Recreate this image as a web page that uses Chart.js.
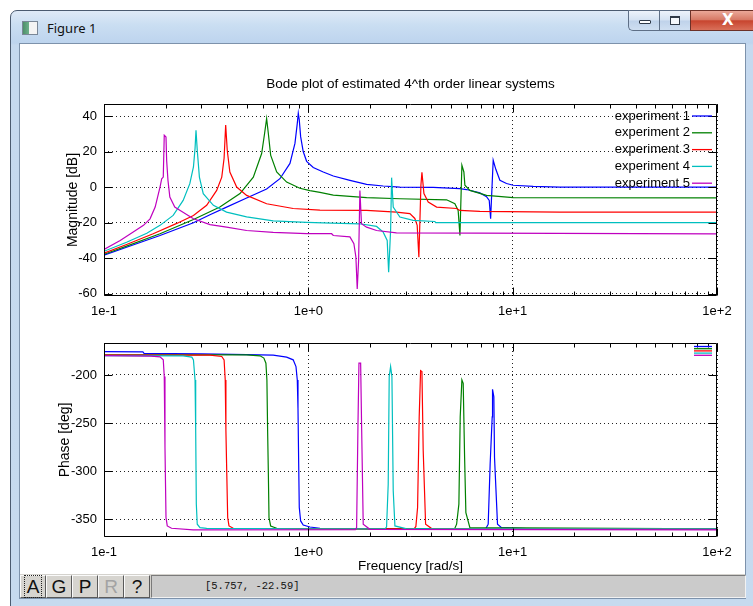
<!DOCTYPE html>
<html>
<head>
<meta charset="utf-8">
<title>Figure 1</title>
<script src="https://cdn.jsdelivr.net/npm/chart.js@4.4.1/dist/chart.umd.min.js"></script>
<style>
  html, body { margin: 0; padding: 0; background: #fff; }
  body { position: relative; width: 753px; height: 606px; overflow: hidden; font-family: "Liberation Sans", Arial, sans-serif; }
  #frame { position: absolute; left: 10px; top: 10px; width: 790px; height: 610px; box-sizing: border-box;
           border: 1px solid #4b5b70; border-radius: 7px 7px 0 0;
           background: linear-gradient(180deg, #dfeaf7 0px, #cadef2 14px, #bdd4ee 32px, #c5d9ef 34px, #c6daef 100%); }
  #icon { position: absolute; left: 22px; top: 21px; width: 14px; height: 12px; border: 1px solid #7a8797;
          background: linear-gradient(90deg, #4e8f6a 0, #6fb38c 45%, #f4f4f4 45%); }
  #wtitle { position: absolute; left: 47px; top: 19px; font: 13px "Noto Sans", "DejaVu Sans", sans-serif; color: #111; }
  .cap { position: absolute; top: 10px; height: 21px; box-sizing: border-box; border: 1px solid #5e6f86; }
  #bmin { left: 628px; width: 32px; border-radius: 0 0 0 5px; border-right: none;
          background: linear-gradient(180deg, #edf3fb, #d4e2f2 48%, #bfd2ea 52%, #cfdff1); }
  #bmax { left: 659px; width: 31px; border-right: none;
          background: linear-gradient(180deg, #edf3fb, #d4e2f2 48%, #bfd2ea 52%, #cfdff1); }
  #bclose { left: 690px; width: 80px; background: linear-gradient(180deg, #eba898, #d77a66 45%, #c8452f 52%, #d9705a); border-color: #6c3128; }
  #bmin i { position: absolute; left: 10px; top: 9px; width: 10px; height: 2px; border: 1px solid #2f3a48; background: #fff; border-radius: 1px; }
  #bmax i { position: absolute; left: 10px; top: 5px; width: 8px; height: 6px; border: 1px solid #2f3a48; border-top-width: 2px; background: #f4f8fc; }
  #bclose span { position: absolute; left: 31px; top: 0px; font: bold 15px "DejaVu Sans", sans-serif; color: #fff; }
  #client { position: absolute; left: 19px; top: 43px; width: 727px; height: 556px; box-sizing: border-box;
            border: 1px solid #7d92ab; background: #fff; }
  #toolbar { position: absolute; left: 20px; top: 574px; width: 725px; height: 24px; background: #d4d2cd; }
  .tb { position: absolute; top: 575px; width: 26px; height: 23px; box-sizing: border-box;
        border: 1px solid; border-color: #fafafa #5a5a5a #5a5a5a #fafafa; background: #d6d4cf;
        font: 19px "Liberation Sans", Arial, sans-serif; color: #111; text-align: center; line-height: 21px; }
  #tbA span { outline: 1px dotted #222; outline-offset: 0px; padding: 0 2px; }
  #field { position: absolute; left: 151px; top: 575px; width: 595px; height: 23px; box-sizing: border-box;
           border: 1px solid; border-color: #7a7a7a #f2f2f2 #f2f2f2 #7a7a7a; background: #cbcbcb;
           font: 10.5px "Liberation Mono", monospace; color: #111; line-height: 21px; padding-left: 53px; }
  canvas { position: absolute; left: 0; }
</style>
</head>
<body>
<div id="frame"></div>
<div id="icon"></div>
<div id="wtitle">Figure 1</div>
<div class="cap" id="bmin"><i></i></div>
<div class="cap" id="bmax"><i></i></div>
<div class="cap" id="bclose"><span>X</span></div>
<div id="client"></div>
<div id="toolbar"></div>
<div class="tb" id="tbA" style="left:20px"><span>A</span></div>
<div class="tb" style="left:46px">G</div>
<div class="tb" style="left:72px">P</div>
<div class="tb" style="left:98px;color:#a3a3a3">R</div>
<div class="tb" style="left:124px">?</div>
<div id="field">[5.757, -22.59]</div>

<canvas id="magChart" width="753" height="330" style="top:0"></canvas>
<canvas id="phaseChart" width="753" height="244" style="top:330px"></canvas>

<script>
// --- data (frequency in rad/s) ---
const expNames = ['experiment 1', 'experiment 2', 'experiment 3', 'experiment 4', 'experiment 5'];

// magnitude [dB]
const magFreq1 = [0.1, 0.129, 0.188, 0.274, 0.33, 0.398, 0.499, 0.625, 0.726, 0.813, 0.86, 0.883, 0.893, 0.903, 0.917, 0.944, 0.981, 1.057, 1.183, 1.325, 1.598, 1.928, 2.325, 2.806, 4.08, 5.52, 5.95, 6.91, 7.45, 7.68, 7.8, 8.03, 8.27, 8.66, 9.33, 10.06, 12.6, 17, 100];
const mag1 = [-38.4, -33.9, -27.3, -20.1, -15.6, -11.3, -6.2, -1.1, 4.7, 13.3, 24.6, 35.9, 41.6, 37.8, 28.4, 20.0, 14.5, 11.0, 8.5, 6.2, 3.8, 1.5, 0.6, 0.0, -0.2, -0.9, -1.4, -3.3, -5.4, -7.5, -17.8, 15.1, 10.0, 3.8, 2.0, 1.0, 0.4, 0.0, 0.0];

const magFreq2 = [0.1, 0.129, 0.188, 0.274, 0.369, 0.463, 0.538, 0.591, 0.611, 0.625, 0.637, 0.654, 0.7, 0.783, 0.909, 1.018, 1.14, 1.325, 1.928, 2.806, 4.75, 5.215, 5.41, 5.52, 5.643, 5.771, 5.837, 6.175, 7.45, 10.06, 100];
const mag2 = [-37.9, -33.3, -26.3, -18.3, -11.3, -3.7, 5.6, 18.9, 30.3, 38.6, 30.3, 18.0, 8.5, 2.8, -0.7, -2.0, -3.0, -4.5, -6.0, -6.6, -7.2, -9.4, -13.2, -27.3, 12.3, 8.5, 1.0, -1.9, -4.7, -6.0, -6.1];

const magFreq3 = [0.1, 0.129, 0.174, 0.227, 0.274, 0.318, 0.356, 0.377, 0.387, 0.394, 0.401, 0.413, 0.446, 0.499, 0.625, 0.843, 1.14, 1.928, 2.70, 3.14, 3.32, 3.41, 3.475, 3.556, 3.597, 3.679, 3.862, 4.244, 5.317, 5.52, 6.91, 17, 100];
const mag3 = [-37.3, -32.4, -26.3, -20.5, -16.0, -10.3, -1.9, 5.6, 16.2, 35.0, 20.7, 8.5, 0.0, -4.7, -9.4, -12.1, -13.0, -13.2, -14.1, -15.0, -17.7, -21.6, -39.5, 1.0, 8.3, -3.7, -8.5, -11.3, -12.1, -13.2, -13.7, -14.1, -14.1];

const magFreq4 = [0.1, 0.129, 0.162, 0.188, 0.218, 0.244, 0.263, 0.274, 0.279, 0.282, 0.286, 0.293, 0.306, 0.343, 0.398, 0.499, 0.673, 0.981, 1.30, 1.788, 2.158, 2.325, 2.432, 2.472, 2.527, 2.556, 2.603, 2.806, 3.26, 4.16, 4.2, 100];
const mag4 = [-36.2, -31.1, -26.0, -21.6, -16.0, -7.5, 1.9, 11.3, 21.8, 32.0, 20.7, 5.6, -3.7, -10.3, -14.1, -16.8, -19.1, -19.9, -20.3, -20.7, -22.2, -25.4, -30.1, -48.0, -24.5, 5.3, -11.3, -16.9, -18.8, -19.4, -20.1, -20.1];

const magFreq5 = [0.1, 0.12, 0.139, 0.156, 0.168, 0.178, 0.188, 0.1916, 0.195, 0.1972, 0.2011, 0.2026, 0.2056, 0.21, 0.222, 0.236, 0.274, 0.33, 0.398, 0.499, 0.673, 0.981, 1.30, 1.325, 1.598, 1.671, 1.709, 1.735, 1.762, 1.788, 1.82, 1.928, 2.158, 2.70, 100];
const mag5 = [-35.2, -30.1, -25.4, -21.6, -17.9, -11.3, 0.0, 4.7, 5.6, 29.2, 28.2, 15.0, 3.8, -5.6, -11.3, -13.2, -17.9, -21.2, -22.6, -24.5, -25.6, -26.3, -26.3, -27.3, -28.1, -31.9, -39.4, -57.4, -41.4, -1.9, -20.7, -22.6, -24.5, -25.8, -26.4];

// phase [deg]
const phFreq1 = [0.1, 0.155, 0.157, 0.3, 0.5, 0.673, 0.783, 0.843, 0.87, 0.883, 0.89, 0.897, 0.903, 0.917, 0.944, 1.018, 1.14, 2.0, 7.4, 7.59, 7.76, 7.94, 7.97, 8.09, 8.15, 8.43, 8.82, 12.6, 100];
const ph1 = [-175.8, -176.0, -177.5, -178.2, -178.8, -179.5, -181.5, -184.3, -191.3, -205.2, -234.8, -292.4, -337.8, -351.8, -356.0, -358.1, -359.4, -360.0, -359.5, -355.2, -292.4, -243.6, -215.0, -222.7, -285.5, -355.2, -358.8, -360.0, -360.0];

const phFreq2 = [0.1, 0.499, 0.58, 0.606, 0.62, 0.627, 0.632, 0.637, 0.642, 0.654, 0.7, 1.5, 5.2, 5.317, 5.455, 5.537, 5.643, 5.727, 5.818, 5.902, 6.175, 100];
const ph2 = [-179.0, -179.1, -180.1, -182.5, -187.8, -205.2, -257.6, -299.4, -348.3, -357.0, -359.4, -360.0, -359.8, -355.2, -334.3, -243.6, -205.2, -208.7, -285.5, -343.1, -358.8, -360.0];

const phFreq3 = [0.1, 0.33, 0.377, 0.387, 0.392, 0.395, 0.398, 0.403, 0.409, 0.429, 1.0, 3.3, 3.36, 3.425, 3.488, 3.543, 3.597, 3.649, 3.749, 4.0, 100];
const ph3 = [-179.5, -179.5, -180.8, -184.3, -205.2, -257.6, -292.4, -348.3, -357.0, -359.4, -360.0, -359.8, -357.5, -337.8, -243.6, -195.5, -196.5, -278.5, -355.2, -359.5, -360.0];

const phFreq4 = [0.1, 0.244, 0.269, 0.274, 0.279, 0.281, 0.283, 0.286, 0.295, 0.318, 1.0, 2.38, 2.415, 2.46, 2.488, 2.527, 2.565, 2.603, 2.653, 3.0, 100];
const ph4 = [-180.0, -180.1, -181.5, -184.3, -205.2, -257.6, -334.3, -355.2, -358.8, -359.5, -360.0, -359.8, -358.0, -313.4, -201.7, -191.3, -201.7, -320.4, -357.0, -359.8, -360.0];

const phFreq5 = [0.1, 0.17, 0.188, 0.195, 0.1972, 0.1988, 0.2011, 0.204, 0.214, 0.273, 1.7, 1.723, 1.749, 1.769, 1.803, 1.823, 1.856, 2.0, 100];
const ph5 = [-180.0, -180.5, -181.2, -184.3, -201.7, -275.0, -348.3, -357.0, -359.4, -361.0, -360.8, -358.8, -254.1, -187.8, -187.8, -254.1, -355.2, -360.5, -361.0];

// axes
const magTicks = [40, 20, 0, -20, -40, -60];
const phaseTicks = [-200, -250, -300, -350];
const freqTicks = [0.1, 1, 10, 100];
const freqTickLabels = ['1e-1', '1e+0', '1e+1', '1e+2'];
const minorSteps = [2, 3, 4, 5, 6, 7, 8, 9];

// octave default line colours
const expColors = ['#0000ff', '#008000', '#ff0000', '#00bfbf', '#bf00bf'];

const FONT = '"Liberation Sans", Arial, sans-serif';
Chart.defaults.font.family = FONT;
Chart.defaults.color = '#000';

function pairs(xs, ys) {
  return xs.map((f, i) => ({x: f, y: ys[i]}));
}

function makeSets(freqs, vals) {
  return vals.map((v, i) => ({
    label: expNames[i],
    data: pairs(freqs[i], v),
    borderColor: expColors[i],
    borderWidth: 1.2,
    pointRadius: 0,
    tension: 0,
    fill: false,
    order: 5 - i   // last experiment drawn on top, like octave
  }));
}

// gnuplot style box: full border, inward ticks, plus the key
const gnuFrame = {
  id: 'gnuFrame',
  afterDraw(chart, args, opts) {
    const {ctx, chartArea: a} = chart;
    const xs = chart.scales.x, ys = chart.scales.y;
    const L = Math.round(a.left) + 0.5, R = Math.round(a.right) - 0.5;
    const T = Math.round(a.top) + 0.5, B = Math.round(a.bottom) - 0.5;
    ctx.save();
    ctx.strokeStyle = '#000';
    ctx.lineWidth = 1;
    ctx.beginPath();
    ctx.rect(L, T, R - L, B - T);
    ys.ticks.forEach(t => {
      const py = Math.round(ys.getPixelForValue(t.value)) + 0.5;
      ctx.moveTo(L, py); ctx.lineTo(L + 8, py);
      ctx.moveTo(R, py); ctx.lineTo(R - 8, py);
    });
    freqTicks.forEach((d, i) => {
      const px = Math.round(xs.getPixelForValue(d)) + 0.5;
      ctx.moveTo(px, B); ctx.lineTo(px, B - 8);
      ctx.moveTo(px, T); ctx.lineTo(px, T + 8);
      if (i < freqTicks.length - 1) {
        minorSteps.forEach(m => {
          const pm = Math.round(xs.getPixelForValue(d * m)) + 0.5;
          ctx.moveTo(pm, B); ctx.lineTo(pm, B - 4);
          ctx.moveTo(pm, T); ctx.lineTo(pm, T + 4);
        });
      }
    });
    ctx.stroke();

    // key
    chart.data.datasets.forEach((ds, i) => {
      let yy;
      if (opts.showText) {
        yy = a.top + 12 + i * 16.8;
        ctx.fillStyle = '#000';
        ctx.font = '13px ' + FONT;
        ctx.textAlign = 'right';
        ctx.textBaseline = 'middle';
        ctx.fillText(ds.label, a.right - 27, yy);
      } else {
        yy = a.top + 3.5 + i * 2.2;
      }
      ctx.strokeStyle = ds.borderColor;
      ctx.lineWidth = 1.3;
      ctx.beginPath();
      ctx.moveTo(a.right - (opts.showText ? 25 : 23), yy);
      ctx.lineTo(a.right - 5, yy);
      ctx.stroke();
    });
    ctx.restore();
  }
};

function xScale(height, withTitle) {
  return {
    type: 'logarithmic',
    min: 0.1,
    max: 100,
    afterBuildTicks: s => { s.ticks = freqTicks.map(v => ({value: v})); },
    afterFit: s => { s.height = height; },
    grid: {color: '#222', lineWidth: 1, drawTicks: false},
    border: {display: false, dash: [1, 3]},
    ticks: {
      font: {size: 13},
      padding: 8,
      maxRotation: 0,
      autoSkip: false,
      callback: (v, i) => freqTickLabels[i]
    },
    title: {
      display: withTitle,
      text: 'Frequency [rad/s]',
      font: {size: 13.5},
      padding: {top: 0, bottom: 0}
    }
  };
}

function yScale(min, max, ticks, label, titlePad) {
  return {
    min: min,
    max: max,
    afterBuildTicks: s => { s.ticks = ticks.map(v => ({value: v})); },
    afterFit: s => { s.width = 104; s.paddingTop = 0; s.paddingBottom = 0; },
    grid: {color: '#222', lineWidth: 1, drawTicks: false},
    border: {display: false, dash: [1, 3]},
    ticks: {font: {size: 13}, padding: 7, callback: v => String(v)},
    title: {display: true, text: label, font: {size: 14}, padding: {top: titlePad, bottom: 0}}
  };
}

new Chart(document.getElementById('magChart'), {
  type: 'line',
  data: {datasets: makeSets([magFreq1, magFreq2, magFreq3, magFreq4, magFreq5], [mag1, mag2, mag3, mag4, mag5])},
  options: {
    responsive: false,
    animation: false,
    layout: {padding: {left: 0, right: 36, top: 0, bottom: 0}},
    scales: {
      x: xScale(34, false),
      y: yScale(-61.4, 46.8, magTicks, 'Magnitude [dB]', 65)
    },
    plugins: {
      legend: {display: false},
      tooltip: {enabled: false},
      title: {
        display: true,
        fullSize: false,
        text: 'Bode plot of estimated 4^th order linear systems',
        font: {size: 13.5, weight: 'normal'},
        color: '#000',
        padding: {top: 75.9, bottom: 11.9}
      },
      gnuFrame: {showText: true}
    }
  },
  plugins: [gnuFrame]
});

new Chart(document.getElementById('phaseChart'), {
  type: 'line',
  data: {datasets: makeSets([phFreq1, phFreq2, phFreq3, phFreq4, phFreq5], [ph1, ph2, ph3, ph4, ph5])},
  options: {
    responsive: false,
    animation: false,
    layout: {padding: {left: 0, right: 36, top: 13, bottom: 0}},
    scales: {
      x: xScale(37, true),
      y: yScale(-368.5, -166.8, phaseTicks, 'Phase [deg]', 57)
    },
    plugins: {
      legend: {display: false},
      tooltip: {enabled: false},
      gnuFrame: {showText: false}
    }
  },
  plugins: [gnuFrame]
});
</script>
</body>
</html>
